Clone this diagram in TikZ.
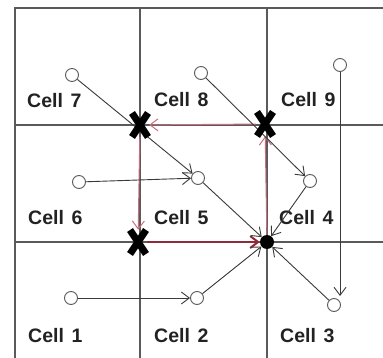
\documentclass[tikz,border=0pt]{standalone}
\usepackage{fontspec}
\setmainfont{Liberation Sans}
\usetikzlibrary{arrows.meta}
\definecolor{gridc}{HTML}{5A5A5A}
\definecolor{arrc}{HTML}{3A3A3A}
\definecolor{redl}{HTML}{C8707E}
\definecolor{redd}{HTML}{8E2A3A}
\definecolor{txtc}{HTML}{222222}
\tikzset{
  gridline/.style={draw=gridc, line width=1.3pt},
  cellpt/.style={circle, draw=gridc, fill=white, line width=0.9pt, minimum size=13pt, inner sep=0pt},
  dotpt/.style={circle, fill=black, minimum size=14pt, inner sep=0pt},
  xmk/.style={minimum width=18pt, minimum height=24pt, inner sep=0pt},
  xstroke/.style={line width=7pt, draw=black},
  flow/.style={draw=arrc, line width=0.9pt, -{Straight Barb[length=8pt,width=12pt]}},
  redflow/.style={draw=redl, line width=1pt, -{Straight Barb[length=8pt,width=12pt]}},
  redbold/.style={draw=redd, line width=2pt, -{Straight Barb[length=8pt,width=12pt]}},
  lbl/.style={anchor=base west, inner sep=0pt, text=txtc, font=\fontsize{19.5}{20}\selectfont\bfseries}
}
\begin{document}
\begin{tikzpicture}[x=1pt, y=-1pt]
\useasboundingbox (0,0) rectangle (383,358);
\fill[white] (0,0) rectangle (383,358);
% grid
\draw[gridline] (15,358) -- (15,8) -- (383,8);
\draw[gridline] (140,8) -- (140,358);
\draw[gridline] (267,8) -- (267,358);
\draw[gridline] (15,125) -- (383,125);
\draw[gridline] (15,242) -- (383,242);
% labels
\node[lbl] (l7) at (27,108) {Cell\hspace{0.4em}7};
\node[lbl] (l8) at (154,107) {Cell\hspace{0.4em}8};
\node[lbl] (l9) at (281,107) {Cell\hspace{0.4em}9};
\node[lbl] (l6) at (28,225) {Cell\hspace{0.4em}6};
\node[lbl] (l5) at (154,225) {Cell\hspace{0.4em}5};
\node[lbl] (l4) at (279,225) {Cell\hspace{0.4em}4};
\node[lbl] (l1) at (28,342) {Cell\hspace{0.4em}1};
\node[lbl] (l2) at (154,342) {Cell\hspace{0.4em}2};
\node[lbl] (l3) at (280,342) {Cell\hspace{0.4em}3};
% X marks (nodes)
\node[xmk] (x1) at (140,125) {};
\node[xmk] (x2) at (265,124) {};
\node[xmk] (x3) at (138,242) {};
% points
\node[cellpt] (c7) at (72,75) {};
\node[cellpt] (c8) at (201,73) {};
\node[cellpt] (c9) at (340,65) {};
\node[cellpt] (c6) at (79,182) {};
\node[cellpt] (c5) at (198,178) {};
\node[cellpt] (c4) at (310,181) {};
\node[cellpt] (c1) at (71,298) {};
\node[cellpt] (c2) at (197,298) {};
\node[cellpt] (c3) at (334,305) {};
\node[dotpt] (d) at (267,242) {};
\coordinate (t3) at (340,296);
% red path
\draw[redflow] (x2) -- (x1);
\draw[redflow] (x1) -- (x3);
\draw[redflow] (d) -- (x2);
\draw[redbold] (x3) -- (d);
% black flows
\draw[flow] (c7) -- (c5);
\draw[flow] (c8) -- (c4);
\draw[flow] (c9) -- (t3);
\draw[flow] (c6) -- (c5);
\draw[flow] (c1) -- (c2);
\draw[flow] (c5) -- (d);
\draw[flow] (c4) -- (d);
\draw[flow] (c2) -- (d);
\draw[flow] (c3) -- (d);
% X strokes
\foreach \n in {x1,x2,x3}{
  \draw[xstroke] ([shift={(-8,-12)}]\n.center) -- ([shift={(8,12)}]\n.center);
  \draw[xstroke] ([shift={(-8,12)}]\n.center) -- ([shift={(8,-12)}]\n.center);
}
\end{tikzpicture}
\end{document}
